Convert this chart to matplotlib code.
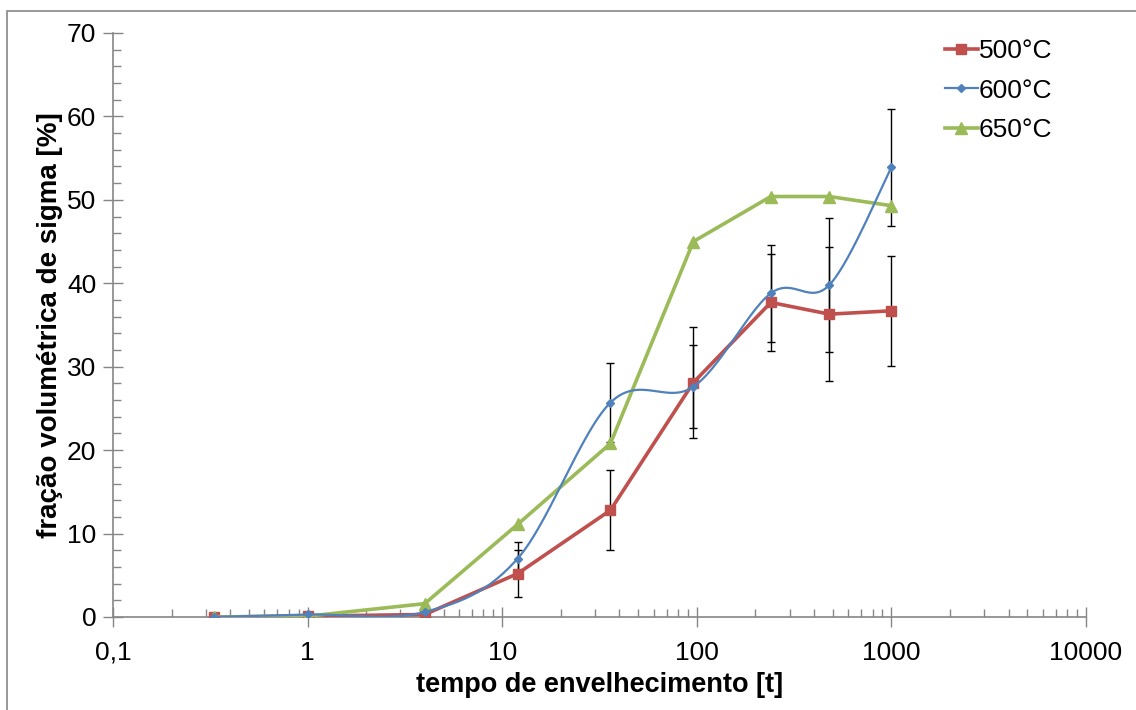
import numpy as np
import matplotlib
matplotlib.use("Agg")
import matplotlib.pyplot as plt
from matplotlib.ticker import FixedLocator, FuncFormatter, NullFormatter, LogLocator
from matplotlib.patches import Rectangle

plt.rcParams['font.family'] = ['Liberation Sans', 'DejaVu Sans']

# aging time (h)
tempo = [0.33, 1, 4, 12, 36, 96, 240, 480, 1000]

sigma_500 = [0.0, 0.1, 0.3, 5.2, 12.8, 28.1, 37.7, 36.3, 36.7]
sigma_600 = [0.0, 0.3, 0.6, 7.0, 25.7, 27.6, 38.8, 39.8, 53.9]
sigma_650 = [0.0, 0.1, 1.6, 11.1, 20.8, 45.0, 50.4, 50.4, 49.3]

# standard deviations (only measured from 12 h on)
err_500 = [0, 0, 0, 2.8, 4.8, 6.7, 5.8, 8.0, 6.6]
err_600 = [0, 0, 0, 2.0, 4.7, 5.0, 5.8, 8.0, 7.0]

x_ticks = [0.1, 1, 10, 100, 1000, 10000]
x_tick_labels = ["0,1", "1", "10", "100", "1000", "10000"]

RED = "#C0504D"
BLUE = "#4F81BD"
GREEN = "#9BBB59"
AXIS = "#868686"


def smooth(xs, ys, n=30):
    # Catmull-Rom curve through the points, in log-x space (like Excel's smoothed line)
    u = np.log10(np.asarray(xs, float))
    v = np.asarray(ys, float)
    P = np.column_stack([u, v])
    P = np.vstack([P[0], P, P[-1]])
    out = []
    for i in range(1, len(P) - 2):
        p0, p1, p2, p3 = P[i - 1], P[i], P[i + 1], P[i + 2]
        c1 = p1 + (p2 - p0) / 6.0
        c2 = p2 - (p3 - p1) / 6.0
        t = np.linspace(0, 1, n)[:, None]
        seg = ((1 - t) ** 3) * p1 + 3 * ((1 - t) ** 2) * t * c1 + 3 * (1 - t) * t ** 2 * c2 + t ** 3 * p2
        out.append(seg if i == 1 else seg[1:])
    out = np.vstack(out)
    return 10 ** out[:, 0], out[:, 1]


fig = plt.figure(figsize=(11.36, 7.10), dpi=100)
ax = fig.add_axes([113 / 1136, 1 - 617 / 710, (1086 - 113) / 1136, (617 - 33) / 710])

# error bars for the measured points
idx = [i for i in range(len(tempo)) if err_500[i] > 0]
ax.errorbar([tempo[i] for i in idx], [sigma_500[i] for i in idx], yerr=[err_500[i] for i in idx],
            fmt="none", ecolor="black", elinewidth=1.0, capsize=3, capthick=1.0, zorder=2)
idx = [i for i in range(len(tempo)) if err_600[i] > 0]
ax.errorbar([tempo[i] for i in idx], [sigma_600[i] for i in idx], yerr=[err_600[i] for i in idx],
            fmt="none", ecolor="black", elinewidth=1.0, capsize=3, capthick=1.0, zorder=2)

ax.plot(tempo, sigma_500, color=RED, lw=2.6, marker="s", ms=7.5, label="500°C", zorder=3)

sx, sy = smooth(tempo, sigma_600)
ax.plot(sx, sy, color=BLUE, lw=1.6, zorder=4)
ax.plot(tempo, sigma_600, color=BLUE, lw=0, marker="D", ms=4.5, zorder=4)
ax.plot([], [], color=BLUE, lw=1.6, marker="D", ms=4.5, label="600°C")

ax.plot(tempo, sigma_650, color=GREEN, lw=2.6, marker="^", ms=9, label="650°C", zorder=3)

ax.set_xscale("log")
ax.set_xlim(0.1, 10000)
ax.set_ylim(0, 70)

ax.xaxis.set_major_locator(FixedLocator(x_ticks))
ax.xaxis.set_major_formatter(FuncFormatter(lambda v, p: x_tick_labels[x_ticks.index(v)] if v in x_ticks else ""))
ax.xaxis.set_minor_locator(LogLocator(base=10, subs=np.arange(2, 10)))
ax.xaxis.set_minor_formatter(NullFormatter())
ax.set_yticks(np.arange(0, 71, 10))
ax.set_yticks(np.arange(0, 71, 2), minor=True)

for s in ["top", "right"]:
    ax.spines[s].set_visible(False)
for s in ["left", "bottom"]:
    ax.spines[s].set_color(AXIS)
    ax.spines[s].set_linewidth(1.2)

ax.tick_params(axis="both", which="major", direction="inout", length=14, width=1.0, color=AXIS,
               labelsize=19, pad=5)
ax.tick_params(axis="both", which="minor", direction="in", length=6, width=1.0, color=AXIS)
ax.tick_params(axis="x", which="major", pad=10)

ax.set_xlabel("tempo de envelhecimento [t]", fontsize=19.5, fontweight="bold", labelpad=5)
ax.set_ylabel("fração volumétrica de sigma [%]", fontsize=20, fontweight="bold", labelpad=3)

leg = ax.legend(loc="upper right", bbox_to_anchor=(0.99, 1.03), frameon=False, fontsize=19,
                handlelength=1.25, handletextpad=0.05, labelspacing=0.58)

# chart area outline
fig.patches.append(Rectangle((7 / 1136, -0.05), 1.2, 1 - 11 / 710 + 0.05, transform=fig.transFigure,
                             fill=False, edgecolor=AXIS, lw=1.2))

fig.savefig("out.png", dpi=100, facecolor="white")
